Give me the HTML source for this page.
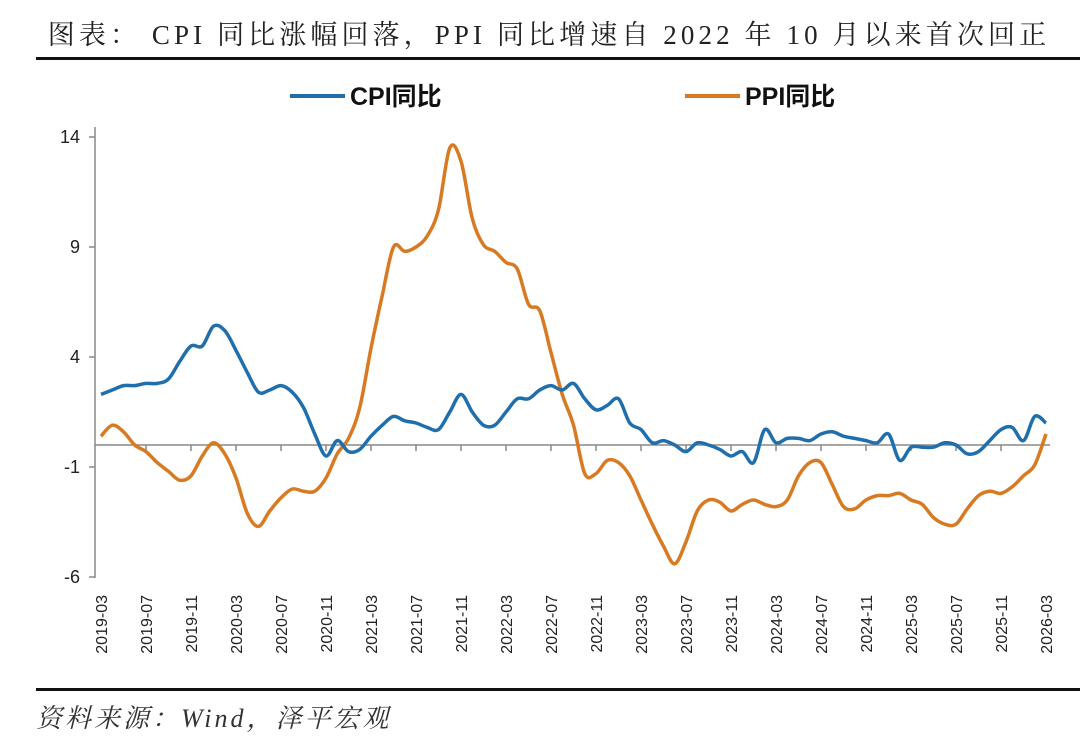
<!DOCTYPE html>
<html><head><meta charset="utf-8"><style>
body{margin:0;background:#fff;width:1080px;height:742px;overflow:hidden;font-family:"Liberation Serif","Noto Serif CJK SC",serif}
</style></head><body>
<svg width="1080" height="742" id="svg">
<text x="549" y="44" text-anchor="middle" font-size="27" fill="#222" letter-spacing="4.1" font-family="'Liberation Serif','Noto Serif CJK SC',serif">图表： CPI 同比涨幅回落，PPI 同比增速自 2022 年 10 月以来首次回正</text>
<rect x="36" y="57" width="1044" height="3" fill="#111"/>
<rect x="36" y="688" width="1044" height="3" fill="#111"/>
<text x="36" y="727" font-size="26" font-style="italic" fill="#333" letter-spacing="3" font-family="'Liberation Serif','Noto Serif CJK SC',serif">资料来源：Wind，泽平宏观</text>
<g>
<line x1="290" y1="96" x2="345" y2="96" stroke="#1f6fad" stroke-width="4"/>
<text x="350" y="105" font-size="25" font-weight="bold" fill="#111" font-family="'Liberation Sans','Noto Sans CJK SC',sans-serif">CPI同比</text>
<line x1="685" y1="96" x2="740" y2="96" stroke="#d77a22" stroke-width="4"/>
<text x="745" y="105" font-size="25" font-weight="bold" fill="#111" font-family="'Liberation Sans','Noto Sans CJK SC',sans-serif">PPI同比</text>
</g>
<g id="axes"></g><g id="series"></g>
</svg>
<script>
const yTicks=[14,9,4,-1,-6];
const cpi=[2.3,2.5,2.7,2.7,2.8,2.8,3.0,3.8,4.5,4.5,5.4,5.2,4.3,3.3,2.4,2.5,2.7,2.4,1.7,0.5,-0.5,0.2,-0.3,-0.2,0.4,0.9,1.3,1.1,1.0,0.8,0.7,1.5,2.3,1.5,0.9,0.9,1.5,2.1,2.1,2.5,2.7,2.5,2.8,2.1,1.6,1.8,2.1,1.0,0.7,0.1,0.2,0.0,-0.3,0.1,0.0,-0.2,-0.5,-0.3,-0.8,0.7,0.1,0.3,0.3,0.2,0.5,0.6,0.4,0.3,0.2,0.1,0.5,-0.7,-0.1,-0.1,-0.1,0.1,0.0,-0.4,-0.3,0.2,0.7,0.8,0.2,1.3,1.0];
const ppi=[0.4,0.9,0.6,0.0,-0.3,-0.8,-1.2,-1.6,-1.4,-0.5,0.1,-0.4,-1.5,-3.1,-3.7,-3.0,-2.4,-2.0,-2.1,-2.1,-1.5,-0.4,0.3,1.7,4.4,6.8,9.0,8.8,9.0,9.5,10.7,13.5,12.9,10.3,9.1,8.8,8.3,8.0,6.4,6.1,4.2,2.3,0.9,-1.3,-1.3,-0.7,-0.8,-1.4,-2.5,-3.6,-4.6,-5.4,-4.4,-3.0,-2.5,-2.6,-3.0,-2.7,-2.5,-2.7,-2.8,-2.5,-1.4,-0.8,-0.8,-1.8,-2.8,-2.9,-2.5,-2.3,-2.3,-2.2,-2.5,-2.7,-3.3,-3.6,-3.6,-2.9,-2.3,-2.1,-2.2,-1.9,-1.4,-0.9,0.5];
const startYear=2019,startMonth=3;
const NS="http://www.w3.org/2000/svg";
const X0=101,X1=1046,Y=v=>445-22*v;
const X=i=>X0+(X1-X0)*i/(cpi.length-1);
function mk(tag,attrs,parent){const e=document.createElementNS(NS,tag);for(const k in attrs)e.setAttribute(k,attrs[k]);parent.appendChild(e);return e;}
const ax=document.getElementById('axes'),se=document.getElementById('series');
let l=mk('line',{x1:95,y1:127,x2:95,y2:578,stroke:'#888','stroke-width':1.5},ax);


l=mk('line',{x1:95,y1:Y(0),x2:1050,y2:Y(0),stroke:'#888','stroke-width':1.5},ax);


yTicks.forEach(v=>{
 const t=mk('line',{x1:89,y1:Y(v),x2:95,y2:Y(v),stroke:'#888','stroke-width':1.5},ax);
 
 
 const tx=mk('text',{x:80,y:Y(v)+6,'text-anchor':'end','font-size':18,fill:'#222','font-family':'Liberation Sans,sans-serif'},ax);
 tx.textContent=v;
 
 
});
for(let i=0;i<cpi.length;i+=4){
 const m0=startMonth-1+i,yr=startYear+Math.floor(m0/12),mo=m0%12+1;
 const lab=yr+'-'+String(mo).padStart(2,'0');
 if(i>0&&i<cpi.length-1){const t=mk('line',{x1:X(i),y1:Y(0),x2:X(i),y2:Y(0)+6,stroke:'#888','stroke-width':1.5},ax);
 
 }
 const tx=mk('text',{transform:`translate(${X(i)+6},595) rotate(-90)`,'text-anchor':'end','font-size':16,fill:'#222','font-family':'Liberation Sans,sans-serif'},ax);
 tx.textContent=lab;
 
 
}
function path(arr){const p=arr.map((v,i)=>[X(i),Y(v)]);let d=`M${p[0][0]},${p[0][1]}`;
 for(let i=0;i<p.length-1;i++){const a=p[Math.max(0,i-1)],b=p[i],c=p[i+1],e=p[Math.min(p.length-1,i+2)];
 const c1=[b[0]+(c[0]-a[0])/6,b[1]+(c[1]-a[1])/6],c2=[c[0]-(e[0]-b[0])/6,c[1]-(e[1]-b[1])/6];
 d+=` C${c1[0]},${c1[1]} ${c2[0]},${c2[1]} ${c[0]},${c[1]}`;}return d;}
let p=mk('path',{d:path(ppi),fill:'none',stroke:'#d77a22','stroke-width':3.5,'stroke-linejoin':'round'},se);


p=mk('path',{d:path(cpi),fill:'none',stroke:'#1f6fad','stroke-width':3.5,'stroke-linejoin':'round'},se);


</script>
</body></html>
